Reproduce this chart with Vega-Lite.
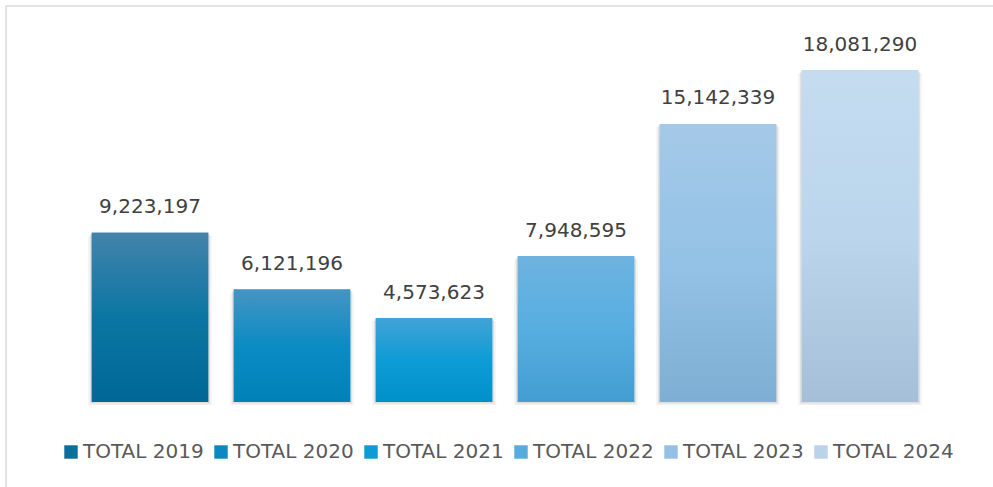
{
  "$schema": "https://vega.github.io/schema/vega-lite/v6.json",
  "width": 992,
  "height": 486,
  "autosize": {"type": "none"},
  "padding": {"left": 6, "top": 6, "right": -5, "bottom": -5},
  "background": "white",
  "config": {
    "view": {"stroke": "#d9d9d9", "strokeWidth": 1.5},
    "font": "DejaVu Sans"
  },
  "data": {
    "values": [
      {"cat": "TOTAL 2019", "value": 9223197},
      {"cat": "TOTAL 2020", "value": 6121196},
      {"cat": "TOTAL 2021", "value": 4573623},
      {"cat": "TOTAL 2022", "value": 7948595},
      {"cat": "TOTAL 2023", "value": 15142339},
      {"cat": "TOTAL 2024", "value": 18081290}
    ]
  },
  "encoding": {
    "x": {"field": "cat", "type": "nominal", "sort": null, "axis": null,
          "scale": {"range": [73, 925], "paddingInner": 0.18, "paddingOuter": 0.09}},
    "y": {"field": "value", "type": "quantitative", "axis": null,
          "scale": {"domain": [0, 18081290], "range": [396, 64], "nice": false, "zero": true}}
  },
  "layer": [
    {
      "mark": {"type": "bar", "color": "#000000", "opacity": 0.05, "width": {"band": 1.06}, "yOffset": 3}
    },
    {
      "mark": {"type": "bar", "color": "#000000", "opacity": 0.08, "width": {"band": 1.03}, "yOffset": 1.5}
    },
    {
      "mark": {"type": "bar"},
      "encoding": {
        "color": {
          "field": "cat", "type": "nominal", "sort": null,
          "scale": {
            "domain": ["TOTAL 2019", "TOTAL 2020", "TOTAL 2021", "TOTAL 2022", "TOTAL 2023", "TOTAL 2024"],
            "range": ["#0b6f9c", "#0a88bf", "#0e9ad4", "#57abdd", "#93c0e4", "#bad3ea"]
          },
          "legend": {
            "title": null,
            "orient": "none",
            "direction": "horizontal",
            "legendX": 55,
            "legendY": 436,
            "padding": 0,
            "symbolType": "square",
            "symbolSize": 180,
            "symbolStrokeWidth": 0,
            "labelFontSize": 20,
            "labelColor": "#595959",
            "labelFont": "DejaVu Sans",
            "labelOffset": 2,
            "columnPadding": 7,
            "labelLimit": 300
          }
        }
      }
    },
    {
      "transform": [{"filter": "datum.cat === 'TOTAL 2019'"}],
      "mark": {"type": "bar", "fill": {"gradient": "linear", "x1": 0, "y1": 0, "x2": 0, "y2": 1,
        "stops": [{"offset": 0, "color": "#4283ab"}, {"offset": 0.5, "color": "#0b76a3"}, {"offset": 1, "color": "#006796"}]}}
    },
    {
      "transform": [{"filter": "datum.cat === 'TOTAL 2020'"}],
      "mark": {"type": "bar", "fill": {"gradient": "linear", "x1": 0, "y1": 0, "x2": 0, "y2": 1,
        "stops": [{"offset": 0, "color": "#4595c3"}, {"offset": 0.5, "color": "#0b8bc3"}, {"offset": 1, "color": "#0082b9"}]}}
    },
    {
      "transform": [{"filter": "datum.cat === 'TOTAL 2021'"}],
      "mark": {"type": "bar", "fill": {"gradient": "linear", "x1": 0, "y1": 0, "x2": 0, "y2": 1,
        "stops": [{"offset": 0, "color": "#43a3d6"}, {"offset": 0.5, "color": "#0e9cd6"}, {"offset": 1, "color": "#0090c8"}]}}
    },
    {
      "transform": [{"filter": "datum.cat === 'TOTAL 2022'"}],
      "mark": {"type": "bar", "fill": {"gradient": "linear", "x1": 0, "y1": 0, "x2": 0, "y2": 1,
        "stops": [{"offset": 0, "color": "#6eb3e0"}, {"offset": 0.5, "color": "#56aee0"}, {"offset": 1, "color": "#449dd2"}]}}
    },
    {
      "transform": [{"filter": "datum.cat === 'TOTAL 2023'"}],
      "mark": {"type": "bar", "fill": {"gradient": "linear", "x1": 0, "y1": 0, "x2": 0, "y2": 1,
        "stops": [{"offset": 0, "color": "#a5c9e8"}, {"offset": 0.5, "color": "#93c2e6"}, {"offset": 1, "color": "#7eaed3"}]}}
    },
    {
      "transform": [{"filter": "datum.cat === 'TOTAL 2024'"}],
      "mark": {"type": "bar", "fill": {"gradient": "linear", "x1": 0, "y1": 0, "x2": 0, "y2": 1,
        "stops": [{"offset": 0, "color": "#c5dcf0"}, {"offset": 0.5, "color": "#bad5ec"}, {"offset": 1, "color": "#a6bfd8"}]}}
    },
    {
      "mark": {"type": "text", "baseline": "alphabetic", "dy": -19.5, "fontSize": 20, "color": "#404040", "font": "DejaVu Sans"},
      "encoding": {
        "text": {"field": "value", "type": "quantitative", "format": ","}
      }
    }
  ]
}
